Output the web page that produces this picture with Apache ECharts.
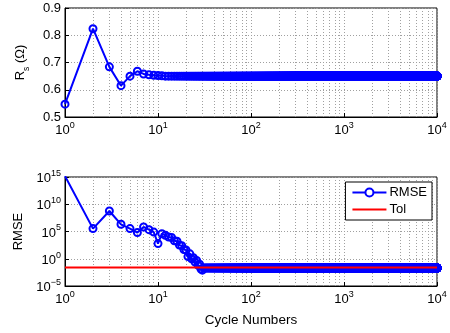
<!DOCTYPE html>
<html>
<head>
<meta charset="utf-8">
<script src="https://cdn.jsdelivr.net/npm/echarts@6/dist/echarts.min.js"></script>
<style>
html,body{margin:0;padding:0;background:#fff;}
#chart{width:450px;height:333px;}
</style>
</head>
<body>
<div id="chart"></div>
<script>
// ---- data ----
const lastCycle = 10000;
// Rs (Ohm) for cycles 1..11, then settled value
const rsEarly = [0.547, 0.824, 0.684, 0.615, 0.650, 0.668, 0.658, 0.655, 0.653, 0.652, 0.651];
const rsSteady = 0.650;
// RMSE for cycles 1..31, then settled value
const rmseEarly = [1.5e15, 3.4e5, 5.8e8, 2.1e6, 3.4e5, 6.3e4, 6.8e5, 2.2e5, 7.9e4, 6.0e2,
                   4.0e4, 2.0e4, 1.0e4, 7.9e3, 2.0e3, 1.6e3, 3.2e2, 2.5e2, 50, 40,
                   2.5, 7.9, 1.0, 1.6, 0.25, 0.5, 0.063, 0.1, 0.0126, 0.008, 0.02];
const rmseSteady = 0.02;
const tol = 0.025;
const minorGridX = [2,3,4,5,6,7,8,9,20,30,40,50,60,70,80,90,200,300,400,500,600,700,800,900,2000,3000,4000,5000,6000,7000,8000,9000];
const seriesNames = ['RMSE', 'Tol'];

function build(early, steady) {
  const out = [];
  for (let c = 1; c <= lastCycle; c++) {
    out.push([c, c <= early.length ? early[c - 1] : steady]);
  }
  return out;
}
const rsData = build(rsEarly, rsSteady);
const rmseData = build(rmseEarly, rmseSteady);
const tolData = [[1, tol], [lastCycle, tol]];

const FONT = 'Liberation Sans, Arial, Helvetica, sans-serif';
const BLUE = '#0000ff', RED = '#ff0000';
const FS = 13;
const gridLine = {show: true, lineStyle: {color: '#a0a0a0', type: [1, 2], width: 1}};
const powRich = {
  b: {fontFamily: FONT, fontSize: FS, color: '#000', verticalAlign: 'bottom', lineHeight: 15},
  s: {fontFamily: FONT, fontSize: 9, color: '#000', verticalAlign: 'bottom', padding: [0, 0, 7, 0]}
};
function powFmt(v) {
  const e = Math.round(Math.log10(v));
  return '{b|10}{s|' + (e < 0 ? '\u2212' + (-e) : e) + '}';
}

function xAxisCfg(gi, showName) {
  return {
    type: 'log', gridIndex: gi, min: 1, max: lastCycle, logBase: 10,
    splitNumber: 4,
    axisLine: {show: true, lineStyle: {color: '#000', width: 1}},
    axisTick: {show: true, inside: true, length: 4, lineStyle: {color: '#000'}},
    axisLabel: {formatter: powFmt, rich: powRich, margin: 4, color: '#000'},
    splitLine: gridLine,
    name: showName ? 'Cycle Numbers' : '',
    nameLocation: 'middle', nameGap: 27,
    nameTextStyle: {fontFamily: FONT, fontSize: 13.5, color: '#000'}
  };
}
const minorMark = {
  silent: true, symbol: 'none', label: {show: false}, z: 1,
  emphasis: {disabled: true},
  lineStyle: {color: '#a0a0a0', type: [1, 2], width: 1},
  data: minorGridX.map(v => ({xAxis: v})),
  animation: false
};
const markerStyle = {color: 'rgba(0,0,0,0)', borderColor: BLUE, borderWidth: 2};

const option = {
  animation: false,
  backgroundColor: '#fff',
  textStyle: {fontFamily: FONT},
  grid: [
    {left: 65, right: 13, top: 8, height: 109, show: true, borderColor: '#000', borderWidth: 1, backgroundColor: '#fff'},
    {left: 65, right: 13, top: 177, height: 109, show: true, borderColor: '#000', borderWidth: 1, backgroundColor: '#fff'}
  ],
  xAxis: [xAxisCfg(0, false), xAxisCfg(1, true)],
  yAxis: [
    {
      type: 'value', gridIndex: 0, min: 0.5, max: 0.9, interval: 0.1,
      axisLine: {show: true, lineStyle: {color: '#000'}},
      axisTick: {show: true, inside: true, length: 4, lineStyle: {color: '#000'}},
      axisLabel: {color: '#000', fontSize: FS, fontFamily: FONT, margin: 4, formatter: v => v.toFixed(1)},
      splitLine: gridLine,
      name: '{b|R}{s|s}{b| (\u03A9)}', nameLocation: 'middle', nameGap: 34, nameRotate: 90,
      nameTextStyle: {rich: {
        b: {fontFamily: FONT, fontSize: FS, color: '#000', verticalAlign: 'top', lineHeight: 15},
        s: {fontFamily: FONT, fontSize: 8.5, color: '#000', verticalAlign: 'top', padding: [8, 0, 0, 0]}
      }}
    },
    {
      type: 'log', gridIndex: 1, min: 1e-5, max: 1e15, logBase: 10, splitNumber: 4, interval: 5,
      axisLine: {show: true, lineStyle: {color: '#000'}},
      axisTick: {show: true, inside: true, length: 4, lineStyle: {color: '#000'}},
      axisLabel: {formatter: powFmt, rich: powRich, margin: 4, color: '#000'},
      splitLine: gridLine,
      name: 'RMSE', nameLocation: 'middle', nameGap: 35, nameRotate: 90,
      nameTextStyle: {fontFamily: FONT, fontSize: FS, color: '#000'}
    }
  ],
  legend: {
    data: [
      {name: seriesNames[0], itemStyle: {color: '#fff', borderColor: BLUE, borderWidth: 2}},
      {name: seriesNames[1], itemStyle: {opacity: 0}}
    ],
    right: 18, top: 182,
    orient: 'vertical',
    backgroundColor: '#fff', borderColor: '#000', borderWidth: 1, borderRadius: 0,
    padding: [4, 5, 4, 6], itemGap: 4, itemWidth: 34, itemHeight: 10,
    textStyle: {fontFamily: FONT, fontSize: FS, color: '#000', padding: [0, 0, 0, -2]}
  },
  series: [
    {
      name: 'Rs', type: 'line', xAxisIndex: 0, yAxisIndex: 0, data: rsData, z: 3,
      symbol: 'circle', symbolSize: 7, showSymbol: true, showAllSymbol: true,
      itemStyle: markerStyle,
      lineStyle: {color: BLUE, width: 2}, clip: true,
      markLine: minorMark
    },
    {
      name: 'RMSE', type: 'line', xAxisIndex: 1, yAxisIndex: 1, data: rmseData, z: 3,
      symbol: 'circle', symbolSize: 7, showSymbol: true, showAllSymbol: true,
      itemStyle: markerStyle,
      lineStyle: {color: BLUE, width: 2}, clip: true
    },
    {
      name: 'Tol', type: 'line', xAxisIndex: 1, yAxisIndex: 1, data: tolData, z: 4,
      symbol: 'none', itemStyle: {color: RED},
      lineStyle: {color: RED, width: 2}, clip: true,
      markLine: minorMark
    }
  ]
};
const chart = echarts.init(document.getElementById('chart'), null, {renderer: 'canvas'});
chart.setOption(option);
</script>
</body>
</html>
